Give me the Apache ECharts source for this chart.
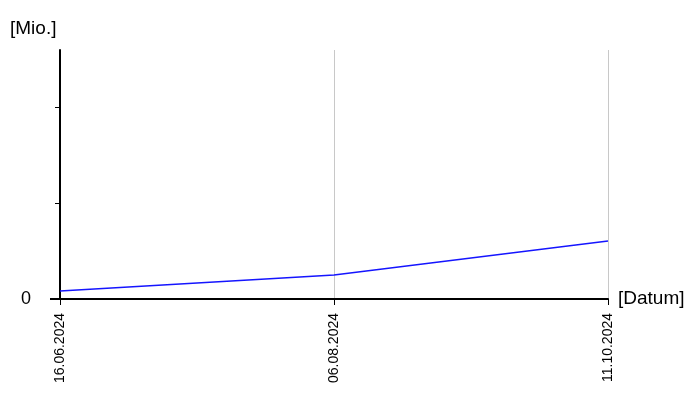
<!DOCTYPE html>
<html><head><meta charset="utf-8">
<script src="https://cdn.jsdelivr.net/npm/echarts@6/dist/echarts.min.js"></script>
<style>html,body{margin:0;padding:0;background:#fff}#c{width:700px;height:400px}</style>
</head><body><div id="c"></div>
<script>
const categories = ['16.06.2024', '06.08.2024', '11.10.2024'];
const values = [0.083, 0.25, 0.604];
const yMax = 2.594;
const yTicks = [1, 2];

const chart = echarts.init(document.getElementById('c'), null, {renderer: 'canvas'});
const font = 'Liberation Sans, Arial, sans-serif';
chart.setOption({
  animation: false,
  grid: {left: 60, right: 92, top: 50, bottom: 101, containLabel: false},
  xAxis: {
    type: 'category', data: categories, boundaryGap: false,
    name: '[Datum]', nameLocation: 'end', nameGap: 10,
    nameTextStyle: {color: '#000', fontSize: 19, fontFamily: font, verticalAlign: 'middle'},
    axisLine: {lineStyle: {color: '#000', width: 2}},
    axisTick: {show: true, length: 6, lineStyle: {color: '#000', width: 1}},
    axisLabel: {rotate: 90, color: '#000', fontSize: 14, fontFamily: font, margin: 14},
    splitLine: {show: true, interval: function(i){return i > 0;}, lineStyle: {color: '#c8c8c8', width: 1}}
  },
  yAxis: [{
    type: 'value', min: 0, max: yMax, interval: 1,
    name: '[Mio.]', nameLocation: 'end', nameGap: 12,
    nameTextStyle: {color: '#000', fontSize: 19, fontFamily: font, align: 'left', padding: [0, 0, 0, -50]},
    axisLine: {show: true, lineStyle: {color: '#000', width: 2}},
    axisTick: {show: true, length: 5, customValues: yTicks, lineStyle: {color: '#000', width: 1}},
    axisLabel: {show: false},
    splitLine: {show: false}
  }, {
    type: 'value', min: 0, max: yMax, interval: 1, position: 'left',
    axisLine: {show: false},
    axisTick: {show: true, length: 10, customValues: [0], lineStyle: {color: '#000', width: 2}},
    axisLabel: {show: true, customValues: [0], color: '#000', fontSize: 18, fontFamily: font, margin: 29},
    splitLine: {show: false}
  }],
  series: [{
    type: 'line', data: values, yAxisIndex: 0, symbol: 'none',
    lineStyle: {color: '#1515ff', width: 1.5}
  }]
});
</script></body></html>
